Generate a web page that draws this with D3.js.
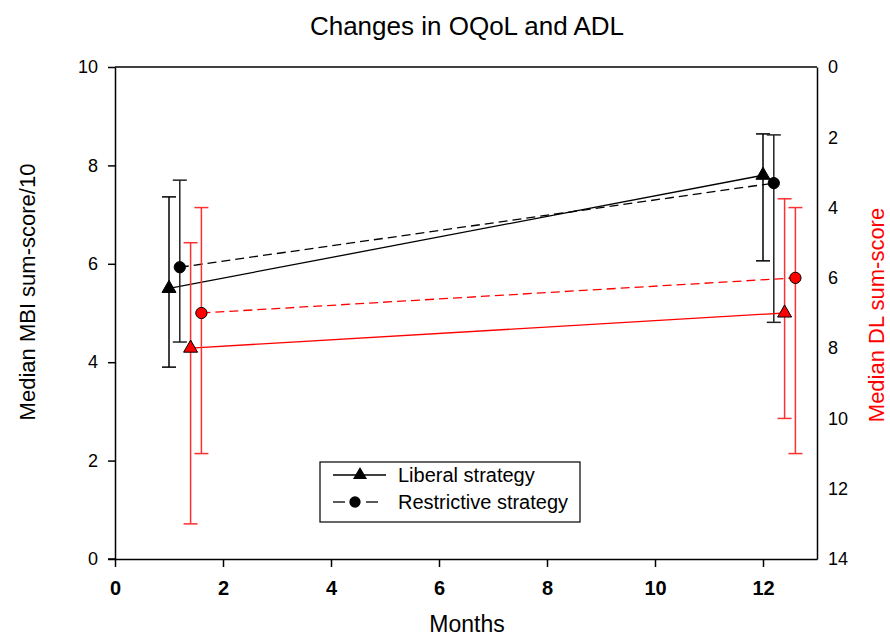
<!DOCTYPE html>
<html>
<head>
<meta charset="utf-8">
<script src="https://cdn.jsdelivr.net/npm/d3@7/dist/d3.min.js"></script>
<style>
  body { margin: 0; background: #fff; }
  svg { display: block; font-family: "Liberation Sans", Arial, sans-serif; }
</style>
</head>
<body>
<svg id="chart" width="890" height="639"></svg>
<script>
// ---- data ----
const xTicks = [0, 2, 4, 6, 8, 10, 12];
const leftTicks = [0, 2, 4, 6, 8, 10];
const rightTicks = [0, 2, 4, 6, 8, 10, 12, 14];

// MBI (left axis, black)
const mbiLiberalX = [1.0, 12.0];
const mbiLiberal = [5.5, 7.8];
const mbiLiberalLo = [3.9, 6.06];
const mbiLiberalHi = [7.36, 8.64];

const mbiRestrictiveX = [1.2, 12.2];
const mbiRestrictive = [5.93, 7.64];
const mbiRestrictiveLo = [4.41, 4.81];
const mbiRestrictiveHi = [7.7, 8.62];

// DL (right axis, red, inverted)
const dlLiberalX = [1.4, 12.4];
const dlLiberal = [8.0, 7.0];
const dlLiberalLo = [5.0, 3.75];
const dlLiberalHi = [13.0, 10.0];

const dlRestrictiveX = [1.6, 12.6];
const dlRestrictive = [7.0, 6.0];
const dlRestrictiveLo = [4.0, 4.0];
const dlRestrictiveHi = [11.0, 11.0];

const legendLabels = ["Liberal strategy", "Restrictive strategy"];

// ---- layout ----
const svg = d3.select("#chart");
const L = 115, R = 817, T = 67, B = 559;
const x = d3.scaleLinear().domain([0, 13]).range([L, R]);
const yL = d3.scaleLinear().domain([0, 10]).range([B, T]);
const yR = d3.scaleLinear().domain([0, 14]).range([T, B]);
const RED = "#ff0000";
const RED_ERR = "#ff3030";

// frame top line
svg.append("line").attr("x1", L).attr("x2", R).attr("y1", T).attr("y2", T)
  .attr("stroke", "#000").attr("stroke-width", 1.5);

// axes
const gL = svg.append("g").attr("transform", `translate(${L},0)`)
  .call(d3.axisLeft(yL).tickValues(leftTicks).tickSize(7).tickPadding(10).tickSizeOuter(0));
gL.selectAll("text").attr("font-size", 18).attr("font-family", "Liberation Sans, Arial, sans-serif").attr("fill", "#000");

const gB = svg.append("g").attr("transform", `translate(0,${B})`)
  .call(d3.axisBottom(x).tickValues(xTicks).tickSize(8).tickPadding(14).tickSizeOuter(0));
gB.selectAll("text").attr("font-size", 20).attr("font-weight", "bold")
  .attr("font-family", "'Liberation Sans Narrow', 'Liberation Sans', Arial, sans-serif").attr("fill", "#000");

const gR = svg.append("g").attr("transform", `translate(${R},0)`)
  .call(d3.axisRight(yR).tickValues(rightTicks).tickSize(0).tickPadding(11).tickSizeOuter(0));
gR.selectAll("text").attr("font-size", 18).attr("font-family", "Liberation Sans, Arial, sans-serif").attr("fill", "#000");

[gL, gB, gR].forEach(g => {
  g.select(".domain").attr("stroke", "#000").attr("stroke-width", 1.5);
  g.selectAll(".tick line").attr("stroke", "#000").attr("stroke-width", 1.5);
});
// small leftward tick at x=0 on bottom-left corner
svg.append("line").attr("x1", L - 7).attr("x2", L).attr("y1", B).attr("y2", B).attr("stroke", "#000").attr("stroke-width", 1.5);

// titles
svg.append("text").attr("x", 467).attr("y", 35).attr("text-anchor", "middle")
  .attr("font-size", 26).text("Changes in OQoL and ADL");
svg.append("text").attr("x", 467).attr("y", 632).attr("text-anchor", "middle")
  .attr("font-size", 23).text("Months");
svg.append("text").attr("transform", "translate(35,292) rotate(-90)").attr("text-anchor", "middle")
  .attr("font-size", 22).text("Median MBI sum-score/10");
svg.append("text").attr("transform", "translate(884,315) rotate(-90)").attr("text-anchor", "middle")
  .attr("font-size", 22).attr("fill", RED).text("Median DL sum-score");

// series drawing
const tri = d3.symbol().type(d3.symbolTriangle).size(85);
const circ = d3.symbol().type(d3.symbolCircle).size(100);

function drawSeries(xs, ys, lo, hi, yScale, lineColor, errColor, dash, symbol, fill) {
  const g = svg.append("g");
  const pts = xs.map((d, i) => ({ x: d, y: ys[i], lo: lo[i], hi: hi[i] }));
  pts.forEach(p => {
    g.append("line").attr("x1", x(p.x)).attr("x2", x(p.x)).attr("y1", yScale(p.lo)).attr("y2", yScale(p.hi))
      .attr("stroke", errColor).attr("stroke-width", 1.5);
    [p.lo, p.hi].forEach(v => {
      g.append("line").attr("x1", x(p.x) - 7).attr("x2", x(p.x) + 7).attr("y1", yScale(v)).attr("y2", yScale(v))
        .attr("stroke", errColor).attr("stroke-width", 1.5);
    });
  });
  g.append("path").datum(pts)
    .attr("d", d3.line().x(p => x(p.x)).y(p => yScale(p.y)))
    .attr("fill", "none").attr("stroke", lineColor).attr("stroke-width", 1.3)
    .attr("stroke-dasharray", dash);
  g.selectAll(".m").data(pts).join("path")
    .attr("transform", p => `translate(${x(p.x)},${yScale(p.y)})`)
    .attr("d", symbol).attr("fill", fill).attr("stroke", "#000").attr("stroke-width", 1);
}

drawSeries(mbiLiberalX, mbiLiberal, mbiLiberalLo, mbiLiberalHi, yL, "#000", "#000", null, tri, "#000");
drawSeries(mbiRestrictiveX, mbiRestrictive, mbiRestrictiveLo, mbiRestrictiveHi, yL, "#000", "#222", "9,5", circ, "#000");
drawSeries(dlLiberalX, dlLiberal, dlLiberalLo, dlLiberalHi, yR, RED, RED_ERR, null, tri, RED);
drawSeries(dlRestrictiveX, dlRestrictive, dlRestrictiveLo, dlRestrictiveHi, yR, RED, RED_ERR, "9,5", circ, RED);

// legend
const lg = svg.append("g");
lg.append("rect").attr("x", 320).attr("y", 462).attr("width", 260).attr("height", 60)
  .attr("fill", "#fff").attr("stroke", "#000").attr("stroke-width", 1.2);
// row 1: solid line with triangle
lg.append("line").attr("x1", 333).attr("x2", 386).attr("y1", 475).attr("y2", 475)
  .attr("stroke", "#000").attr("stroke-width", 1.3);
lg.append("path").attr("transform", "translate(360,475)").attr("d", tri).attr("fill", "#000");
lg.append("text").attr("x", 398).attr("y", 482).attr("font-size", 20).text(legendLabels[0]);
// row 2: dashed with circle
[[333, 345], [366, 378]].forEach(s => {
  lg.append("line").attr("x1", s[0]).attr("x2", s[1]).attr("y1", 502).attr("y2", 502)
    .attr("stroke", "#000").attr("stroke-width", 1.3);
});
lg.append("path").attr("transform", "translate(355,502)").attr("d", circ).attr("fill", "#000");
lg.append("text").attr("x", 398).attr("y", 509).attr("font-size", 20).text(legendLabels[1]);
</script>
</body>
</html>
